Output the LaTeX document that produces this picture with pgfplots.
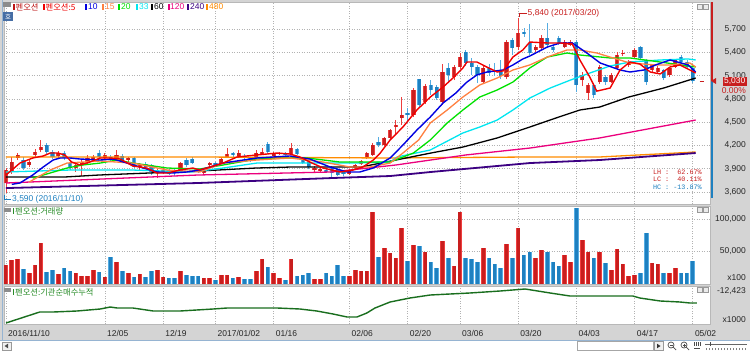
\documentclass[border=0pt]{standalone}
\usepackage{pgfplots}
\pgfplotsset{compat=1.18}
\usepackage{pgfplotstable}
\usepackage{fontspec}
\setmainfont{Liberation Sans}
\newfontfamily\kr{Noto Sans CJK KR}
\newfontfamily\mono{Liberation Mono}

\definecolor{frame}{RGB}{212,212,212}
\definecolor{upc}{RGB}{200,30,30}
\definecolor{upe}{RGB}{238,62,62}
\definecolor{dnc}{RGB}{30,128,192}
\definecolor{dne}{RGB}{85,172,226}
\definecolor{ma5}{RGB}{240,0,0}
\definecolor{ma10}{RGB}{0,0,225}
\definecolor{ma15}{RGB}{255,128,64}
\definecolor{ma20}{RGB}{0,225,0}
\definecolor{ma33}{RGB}{0,230,240}
\definecolor{ma60}{RGB}{0,0,0}
\definecolor{ma120}{RGB}{235,0,125}
\definecolor{ma240}{RGB}{60,0,130}
\definecolor{ma480}{RGB}{255,140,0}
\definecolor{indg}{RGB}{25,110,30}
\definecolor{hdrg}{RGB}{40,140,40}
\definecolor{legdr}{RGB}{190,20,20}
\definecolor{bord}{RGB}{150,180,210}
\definecolor{hobox}{RGB}{70,110,165}

% candles: index, open, high, low, close
\pgfplotstableread{
i o h l c
0 3717 3910 3590 3884
1 3859 4052 3833 3987
2 4039 4103 4013 4078
4 3949 4013 3923 3987
5 4078 4155 4052 4116
6 4142 4271 4116 4180
9 4065 4129 4026 4103
12 3910 3974 3859 3949
13 3949 4013 3807 3987
14 3987 4078 3961 4039
15 4013 4078 3987 4052
17 4039 4103 4013 4078
19 4039 4142 4013 4078
21 4013 4052 3987 4039
23 3923 3974 3884 3961
26 3846 3897 3781 3884
27 3859 3910 3833 3884
30 3859 3987 3846 3974
34 3846 3897 3833 3884
35 3949 3987 3923 3974
37 3974 4039 3961 4026
38 4052 4167 4039 4090
40 4065 4142 4052 4103
43 4052 4142 4026 4103
44 4090 4167 4078 4116
46 4065 4116 4052 4090
47 4090 4116 4078 4103
49 4090 4232 4078 4167
53 3884 3936 3859 3910
54 3871 3923 3859 3897
59 3833 3897 3820 3884
60 3910 3961 3884 3949
61 3961 4013 3949 4000
62 4039 4116 4026 4103
63 4078 4232 4065 4206
65 4206 4310 4193 4297
66 4297 4412 4284 4399
67 4438 4528 4335 4464
68 4554 4824 4464 4593
70 4593 4940 4567 4915
72 4760 4992 4734 4966
75 4760 5249 4721 5146
77 5082 5237 5043 5211
78 5211 5391 5185 5339
82 5017 5224 4992 5198
86 5082 5558 5056 5532
88 5468 5840 5430 5648
91 5430 5494 5404 5468
92 5455 5623 5430 5584
96 5468 5558 5455 5532
97 5494 5558 5481 5532
99 5043 5146 4966 5108
100 4876 5004 4786 4979
102 5017 5237 4992 5211
104 5017 5133 5004 5108
105 5198 5404 5185 5365
106 5378 5430 5352 5391
107 5237 5301 5211 5275
108 5339 5455 5314 5430
111 5172 5249 5133 5237
112 5146 5224 5121 5198
114 5108 5211 5082 5198
115 5211 5314 5198 5301
}\upT

\pgfplotstableread{
i o h l c
3 4013 4052 3884 3910
7 4206 4232 4078 4116
8 4116 4142 4026 4052
10 4103 4129 4013 4039
11 3974 4013 3884 3910
16 4103 4142 4026 4052
18 4052 4078 3987 4013
20 4065 4090 3987 4013
22 4039 4052 3910 3923
24 3961 3987 3910 3923
25 3949 3961 3820 3859
28 3884 3897 3820 3833
29 3884 3897 3807 3846
31 4013 4039 3923 3949
32 4026 4052 3961 3974
33 3884 3910 3846 3859
36 3974 3987 3923 3949
39 4103 4116 4052 4078
41 4065 4090 4026 4039
42 4039 4052 3987 4013
45 4219 4245 4090 4116
48 4103 4116 4065 4078
50 4154 4167 4078 4090
51 4026 4052 3961 3974
52 3987 4000 3897 3923
55 3884 3897 3846 3859
56 3923 3936 3794 3846
57 3897 3910 3807 3820
58 3859 3871 3807 3833
64 4245 4310 4180 4206
69 4618 4682 4490 4593
71 5056 5056 4695 4721
73 4979 5043 4850 4915
74 4953 4979 4786 4811
76 5198 5262 5004 5108
79 5404 5430 5224 5262
80 5262 5327 5108 5211
81 5211 5237 5004 5108
83 5198 5249 5095 5133
84 5172 5262 5095 5146
85 5146 5301 5056 5095
87 5558 5584 5365 5455
89 5661 5713 5597 5636
90 5520 5764 5365 5391
93 5584 5777 5455 5494
94 5468 5494 5404 5430
95 5584 5610 5494 5520
98 5532 5558 4889 4979
101 4979 5004 4811 4850
103 5082 5108 4979 5017
109 5468 5481 5301 5327
110 5301 5314 4979 5017
113 5172 5185 5043 5069
116 5339 5365 5249 5275
117 5275 5301 5185 5211
118 5198 5237 5004 5030
}\dnT

% volume (x100 shares)
\pgfplotstableread{
i v
0 28600
1 36500
2 38000
4 16000
5 28600
6 63500
9 14300
12 16000
13 11000
14 11000
15 20600
17 9500
19 33000
21 16000
23 14300
26 20600
27 9500
30 19000
34 8000
35 8000
37 12700
38 12700
40 9500
43 19000
44 38000
46 16000
47 8000
49 38000
53 6300
54 6300
59 11000
60 20600
61 19000
62 19000
63 111000
65 55000
66 48000
67 40000
68 87000
70 60000
72 49000
75 66000
77 28000
78 112000
82 55000
86 62000
88 87000
91 40000
92 52000
96 45000
97 33000
99 68000
100 49000
102 49000
104 21000
105 54000
106 30000
107 11000
108 13000
111 32000
112 30000
114 17000
115 24000
}\volUp

\pgfplotstableread{
i v
3 22000
7 17500
8 20600
10 23800
11 19000
16 17500
18 41000
20 19000
22 9500
24 9500
25 19000
28 8000
29 8000
31 12700
32 11000
33 11000
36 4800
39 8000
41 6300
42 6300
45 25400
48 4800
50 11000
51 12700
52 16000
55 16000
56 11000
57 28600
58 11000
64 42000
69 35000
71 58000
73 33000
74 24000
76 40000
79 40000
80 38000
81 33000
83 40000
84 30000
85 24000
87 40000
89 45000
90 49000
93 50000
94 33000
95 28000
98 118000
101 40000
103 32000
109 17000
110 79000
113 17000
116 17000
117 17000
118 35000
}\volDn

\pgfplotsset{
  panel/.style={
    scale only axis, width=706bp, anchor=south west,
    xmin=-0.34, xmax=120.96,
    axis background/.style={fill=white},
    axis line style={draw=black!28, line width=0.6bp},
    xtick={0,17,27,36,46,59,69,78,88,98,108,118},
    xticklabels={},
    xmajorgrids, ymajorgrids,
    major grid style={dash pattern=on 0.8bp off 1.7bp, draw=black!30, line width=0.6bp},
    major tick length=0pt,
    scaled y ticks=false,
    yticklabel pos=right,
    yticklabel style={anchor=east, inner sep=0pt, xshift=36bp, font=\fontsize{8.5}{10}\selectfont, text=black!85},
  },
}

\begin{document}
\begin{tikzpicture}[x=1bp,y=1bp,font=\fontsize{8.5}{10}\selectfont]
\useasboundingbox (0,0) rectangle (750,352);
% frame and background
\fill[frame] (0,0) rectangle (750,352);
\fill[white] (0,0) rectangle (750,11.5);
\draw[bord, line width=0.8bp] (0,11.8) -- (750,11.8);
\draw[bord, line width=1bp] (2.5,11.8) -- (2.5,352);

% ===== price panel =====
\begin{axis}[panel, at={(4bp,148bp)}, height=202bp,
  ymin=3446.7, ymax=6047.6,
  ytick={3600,3900,4200,4500,4800,5100,5400,5700},
  yticklabels={{3,600},{3,900},{4,200},{4,500},{4,800},{5,100},{5,400},{5,700}}]
\addplot[draw=upe, line width=0.9bp, mark=none, forget plot, quiver={u=0, v=\thisrow{h}-\thisrow{l}}] table[x=i, y=l] {\upT};
\addplot[draw=upe, line width=4.2bp, mark=none, forget plot, quiver={u=0, v=\thisrow{c}-\thisrow{o}}] table[x=i, y=o] {\upT};
\addplot[draw=upc, line width=2.6bp, mark=none, forget plot, quiver={u=0, v=\thisrow{c}-\thisrow{o}}] table[x=i, y=o] {\upT};
\addplot[draw=dne, line width=0.9bp, mark=none, forget plot, quiver={u=0, v=\thisrow{h}-\thisrow{l}}] table[x=i, y=l] {\dnT};
\addplot[draw=dne, line width=4.2bp, mark=none, forget plot, quiver={u=0, v=\thisrow{o}-\thisrow{c}}] table[x=i, y=c] {\dnT};
\addplot[draw=dnc, line width=2.6bp, mark=none, forget plot, quiver={u=0, v=\thisrow{o}-\thisrow{c}}] table[x=i, y=c] {\dnT};
% moving averages
\addplot[ma480, line width=1.3bp] coordinates {(0,4052) (33,4052) (66,4039) (90,4052) (102,4052) (118.5,4116)};
\addplot[ma240, line width=1.8bp] coordinates {(0,3652) (33,3717) (56,3781) (66,3807) (73,3859) (90,3974) (102,4013) (118.5,4103)};
\addplot[ma120, line width=1.3bp] coordinates {(0,3717) (33,3820) (56,3859) (67,3949) (79,4078) (90,4167) (102,4297) (118.5,4528)};
\addplot[ma60, line width=1.3bp] coordinates {(0,3794) (10,3794) (16,3820) (33,3871) (43,3910) (49,3923) (61,3923) (67,4013) (73,4103) (78.5,4180) (84.4,4297) (90,4438) (95,4567) (98.6,4657) (102,4695) (107,4824) (113,4940) (118.5,5069)};
\addplot[ma33, line width=1.3bp] coordinates {(0,3859) (11,3884) (21.8,3884) (32,3859) (37.3,3910) (43.1,3974) (54.5,3974) (59.6,3974) (66,3987) (67.2,4052) (72.9,4142) (78.5,4361) (81.4,4438) (84.4,4528) (87.1,4657) (90,4811) (93.5,4940) (97,5043) (100.3,5133) (103.8,5224) (107.2,5275) (112.4,5301) (117.2,5314) (118.5,5301)};
\addplot[ma20, line width=1.3bp] coordinates {(4.6,3780) (10.5,3910) (13.2,3949) (16.2,3974) (19.1,4013) (21.8,3974) (27.7,3910) (33.3,3897) (37.3,3949) (43.1,4026) (48.8,4039) (51.7,4039) (57.4,3987) (63.1,3987) (66,3987) (70,4103) (72.9,4271) (75.8,4490) (78.5,4657) (81.4,4824) (84.4,4915) (87.1,5017) (90,5198) (93,5339) (96.4,5391) (98.6,5365) (103.8,5327) (107.2,5327) (112.4,5275) (118.5,5211)};
\addplot[ma15, line width=1.3bp] coordinates {(4,3730) (7.6,3884) (10.5,3974) (13.2,3987) (16.2,4000) (21.8,3974) (27.7,3884) (33.3,3859) (37.3,3974) (43.1,4013) (48.8,4039) (54.5,3987) (59.1,3923) (62.5,3923) (66,3974) (68.2,4103) (70.9,4271) (72.9,4490) (75.8,4657) (78.5,4824) (81.4,4979) (84.4,5069) (87.1,5172) (90,5237) (93,5339) (96.4,5430) (98.6,5430) (101.5,5391) (104.3,5327) (107.2,5262) (111.6,5237) (114.1,5237) (117.5,5262) (118.5,5211)};
\addplot[ma10, line width=1.4bp] coordinates {(1,3700) (2.4,3717) (4.6,3820) (6.4,3923) (8.1,4013) (9.3,4039) (11,4039) (12.7,4026) (16.2,4013) (18.4,4026) (20.8,3974) (23,3923) (25.9,3859) (28.7,3846) (31.1,3859) (33.3,3884) (37.3,3974) (43.1,4039) (48.8,4065) (52.2,4026) (55.7,3923) (58.6,3859) (60.8,3859) (63.1,3910) (66,4039) (68.2,4206) (70.6,4399) (72.9,4567) (75.1,4747) (77.3,4876) (79.2,5017) (80.9,5108) (82.6,5146) (85.4,5172) (87.1,5237) (88.8,5314) (90,5352) (93,5468) (95.2,5520) (97.3,5520) (99.8,5391) (102.1,5262) (105.5,5172) (107.2,5146) (109.6,5172) (111.6,5237) (114.1,5301) (117.2,5237) (118.5,5146)};
\addplot[ma5, line width=1.4bp] coordinates {(0,3820) (2.4,3974) (4.6,4039) (6.4,4065) (7.6,4103) (8.9,4103) (10.1,4078) (11.3,3987) (12.7,3949) (14.4,3987) (16.2,4039) (17.9,4039) (19.6,4026) (21.8,3936) (24.2,3910) (25.9,3846) (27.7,3846) (29.9,3884) (32.1,3910) (33.3,3884) (37.3,3974) (39.7,4052) (43.1,4078) (46.6,4103) (48.8,4090) (50.5,4052) (52.2,3987) (54.5,3910) (57.4,3859) (59.6,3884) (61.3,3923) (63.1,4013) (64.3,4103) (66,4271) (68.2,4438) (70.6,4657) (72.9,4824) (75.1,4953) (76.8,5069) (78.5,5198) (79.2,5275) (80.9,5275) (82.6,5211) (84.4,5146) (85.4,5160) (87.1,5339) (88.8,5430) (90,5532) (93,5520) (95.2,5520) (97.3,5507) (98.6,5301) (100.3,5082) (101.5,4900) (103.8,4940) (105.5,5172) (107.2,5275) (108.9,5249) (110.7,5146) (112.4,5121) (114.1,5211) (115.8,5237) (117.5,5172) (118.5,5133)};
\end{axis}

% ===== volume panel =====
\begin{axis}[panel, at={(4bp,68bp)}, height=78bp,
  ymin=-781, ymax=121094,
  ytick={50000,100000}, yticklabels={{50,000},{100,000}}]
\addplot[ycomb, draw=upe, line width=4.6bp, mark=none] table[x=i, y=v] {\volUp};
\addplot[ycomb, draw=upc, line width=3bp, mark=none] table[x=i, y=v] {\volUp};
\addplot[ycomb, draw=dne, line width=4.6bp, mark=none] table[x=i, y=v] {\volDn};
\addplot[ycomb, draw=dnc, line width=3bp, mark=none] table[x=i, y=v] {\volDn};
\end{axis}

% ===== indicator panel =====
\begin{axis}[panel, at={(4bp,28bp)}, height=38bp,
  ymin=-1, ymax=37, ytick=\empty]
\addplot[indg, line width=1.4bp] coordinates {(0,0) (5.8,11) (8.1,11) (12.2,12) (16.2,14) (17.9,16) (19.1,15) (21.8,15) (25.3,12) (29.9,12) (35.6,14) (38,15) (46.6,15) (50.5,14) (53.4,12) (56.2,9) (58.6,6) (60.3,6) (62,10) (63.4,15) (66,21) (69.4,25) (72.9,28) (79.7,30) (84.9,32) (89.2,34) (93.5,30) (96.9,27) (102.1,27) (107.7,27) (108.9,25) (112.4,22) (115.8,21) (117.5,20) (118.7,20)};
\end{axis}

% ===== date labels =====
\foreach \xx/\lab in {6/2016\slash 11\slash 10,104.9/12\slash 05,163.1/12\slash 19,215.5/2017\slash 01\slash 02,273.7/01\slash 16,349.4/02\slash 06,407.6/02\slash 20,460/03\slash 06,518.2/03\slash 20,576.4/04\slash 03,634.6/04\slash 17,692.8/05\slash 02}{
  \node[anchor=west, inner sep=0pt, text=black!85] at (\xx+2,18.5) {\lab};
}

% ===== overlays =====
% price position bar on right edge
\fill[upc] (710.5,271) rectangle (713,350);
\fill[dnc] (710.5,154) rectangle (713,271);
\fill[upc] (711,271) -- (716,274) -- (716,268) -- cycle;
\draw[upc, line width=0.8bp] (699.5,271) -- (703.5,271);
\fill[upc] (722.5,266) rectangle (746.5,275.5);
\node[anchor=east, inner sep=0pt, text=white] at (745.5,270.8) {5,030};
\node[anchor=east, inner sep=0pt, text=upc] at (746,261.5) {0.00\%};

% volume and indicator scale notes
\node[anchor=east, inner sep=0pt, text=black!85] at (746,74) {x100};
\node[anchor=east, inner sep=0pt, text=black!85] at (746,60.5) {-12,423};
\node[anchor=east, inner sep=0pt, text=black!85] at (746,32) {x1000};

% top legend
\fill[black!45] (3,345) rectangle (11,350);
\fill[hobox] (3,331) rectangle (13,340);
\node[inner sep=0pt, text=white, font=\kr\fontsize{6.5}{7}\selectfont] at (8,335.5) {호};
\fill[legdr] (12.5,342) rectangle (14.5,348);
\node[anchor=west, inner sep=0pt, text=legdr, font=\kr\fontsize{8.3}{9}\selectfont] at (15.5,345) {펜오션};
\fill[ma5] (43,342) rectangle (45,348);
\node[anchor=west, inner sep=0pt, text=ma5, font=\kr\fontsize{8.3}{9}\selectfont] at (45.5,345) {펜오션:5};
\fill[ma10] (85,342) rectangle (87,348);
\node[anchor=west, inner sep=0pt, text=ma10] at (88,345) {10};
\fill[ma15] (102,342) rectangle (104,348);
\node[anchor=west, inner sep=0pt, text=ma15] at (105,345) {15};
\fill[ma20] (118,342) rectangle (120,348);
\node[anchor=west, inner sep=0pt, text=ma20] at (121,345) {20};
\fill[ma33] (136,342) rectangle (138,348);
\node[anchor=west, inner sep=0pt, text=ma33] at (139,345) {33};
\fill[ma60] (151,342) rectangle (153,348);
\node[anchor=west, inner sep=0pt, text=ma60] at (154,345) {60};
\fill[ma120] (167.5,342) rectangle (169.5,348);
\node[anchor=west, inner sep=0pt, text=ma120] at (170,345) {120};
\fill[ma240] (187,342) rectangle (189,348);
\node[anchor=west, inner sep=0pt, text=ma240] at (190,345) {240};
\fill[ma480] (206,342) rectangle (208,348);
\node[anchor=west, inner sep=0pt, text=ma480] at (209,345) {480};

% panel headers
\fill[black!45] (4,140) rectangle (11,144);
\fill[hdrg] (12.5,138) rectangle (14,144);
\node[anchor=west, inner sep=0pt, text=hdrg, font=\kr\fontsize{8.3}{9}\selectfont] at (15,141) {펜오션:거래량};
\fill[black!45] (4,60) rectangle (11,64);
\fill[hdrg] (12.5,57) rectangle (14,63);
\node[anchor=west, inner sep=0pt, text=hdrg, font=\kr\fontsize{8.3}{9}\selectfont] at (15,60) {펜오션:기관순매수누적};

% small window icons
\foreach \yy in {343,140,60}{
  \draw[black!40, fill=black!8, line width=0.5bp] (697,\yy) rectangle (702,\yy+5);
  \draw[black!40, fill=black!8, line width=0.5bp] (703,\yy) rectangle (708,\yy+5);
}

% high / low annotations
\draw[upc, line width=0.8bp] (519.5,335) -- (519.5,339) -- (527,339);
\node[anchor=west, inner sep=0pt, text=upc] at (527.5,339) {5,840 (2017/03/20)};
\draw[dnc, line width=0.8bp] (4.5,157) -- (4.5,153) -- (11,153);
\node[anchor=west, inner sep=0pt, text=dnc] at (12,153) {3,590 (2016/11/10)};

% LH / LC / HC
\node[anchor=east, inner sep=0pt, text=upc, font=\mono\fontsize{6.8}{7}\selectfont] at (702,180) {LH :\ \ 62.67\%};
\node[anchor=east, inner sep=0pt, text=upc, font=\mono\fontsize{6.8}{7}\selectfont] at (702,172.5) {LC :\ \ 40.11\%};
\node[anchor=east, inner sep=0pt, text=dnc, font=\mono\fontsize{6.8}{7}\selectfont] at (702,165) {HC : -13.87\%};

% bottom scrollbar
\draw[black!40, fill=black!6, line width=0.5bp] (2,2) rectangle (11,10);
\fill[black!70] (4.5,6) -- (8,8.3) -- (8,3.7) -- cycle;
\draw[black!35, line width=0.5bp] (577,1.5) rectangle (653,10.5);
\draw[black!40, fill=black!6, line width=0.5bp] (654,1.5) rectangle (663,10.5);
\fill[black!80] (660.5,6) -- (657,8.3) -- (657,3.7) -- cycle;
\draw[black!70, line width=0.7bp] (671,7) circle (3);
\draw[black!70, line width=0.7bp] (673,5) -- (676,2);
\draw[black!70, line width=0.6bp] (669.5,7) -- (672.5,7);
\draw[black!70, line width=0.7bp] (684,7) circle (3);
\draw[black!70, line width=0.7bp] (686,5) -- (689,2);
\draw[black!70, line width=0.6bp] (682.5,7) -- (685.5,7) (684,5.5) -- (684,8.5);
\foreach \xx in {694,696,698,700}{\draw[black!70, line width=0.5bp] (\xx,6) -- (\xx,10);}
\draw[black!70, line width=0.5bp] (694,3.5) -- (700,3.5);
\draw[black!60, line width=0.6bp] (705,8) -- (747,8);
\draw[black!70, line width=0.8bp] (710,6) -- (710,10);
\foreach \xx in {706,709,...,746}{\draw[black!50, line width=0.4bp] (\xx,2) -- (\xx,4);}
\end{tikzpicture}
\end{document}
